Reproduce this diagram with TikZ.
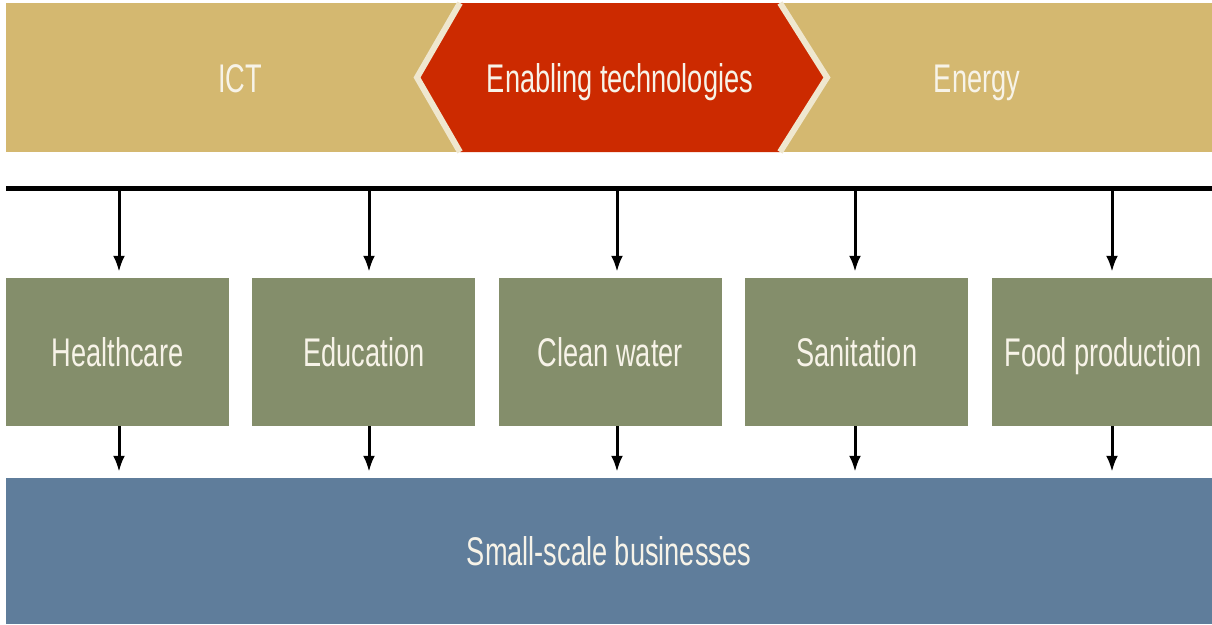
\documentclass[tikz,border=0pt]{standalone}
\usepackage{fontspec}
\setmainfont{Liberation Sans}[FakeStretch=0.68]
\usetikzlibrary{arrows.meta}
\usetikzlibrary{positioning}

\definecolor{bandtan}{HTML}{D4B870}
\definecolor{techred}{HTML}{CC2A00}
\definecolor{rimcream}{HTML}{EFE7CF}
\definecolor{sectorgreen}{HTML}{848E6B}
\definecolor{bizblue}{HTML}{5F7D9B}
\definecolor{textcream}{HTML}{F7F3E8}

\tikzset{
  lbl/.style={text=textcream,font=\fontsize{40}{44}\selectfont,text height=29pt,text depth=0pt},
  sector/.style={rectangle,fill=sectorgreen,inner sep=0pt,
    minimum width=223pt,minimum height=148pt,lbl},
  flow/.style={draw,line width=3pt,->,>={Latex[length=16pt,width=12pt]},shorten >=6pt}
}

\begin{document}
\begin{tikzpicture}[x=1pt,y=-1pt]

  \useasboundingbox (0,0) rectangle (1212,624);

  % top band with the hexagon in the middle
  \node [rectangle,fill=bandtan,inner sep=0pt,minimum width=1206pt,minimum height=149pt]
    (band) at (609,77.5) {};
  \fill [techred] (417,77.5) -- (460,3) -- (780,3) -- (827,77.5) -- (780,152) -- (460,152) -- cycle;
  \draw [rimcream,line width=6pt,line join=miter]
    (460,3) -- (417,77.5) -- (460,152)
    (780,3) -- (827,77.5) -- (780,152);
  \node [lbl] (ict)    at (240,78) {ICT};
  \node [lbl] (enable) at (620,78) {Enabling technologies};
  \node [lbl] (energy) at (977,78) {Energy};

  % bus line
  \coordinate (busL) at (6,188);
  \coordinate (busR) at (1212,188);
  \draw [line width=5pt] (busL) -- (busR);

  % sectors
  \node [sector] (health) at (117.5,352) {Healthcare};
  \node [sector,right=23pt of health] (educ)  {Education};
  \node [sector,right=23pt of educ]   (water) {Clean water};
  \node [sector,right=23pt of water]  (sanit) {Sanitation};
  \node [sector,right=23pt of sanit]  (food)  {Food production};

  \node [rectangle,fill=bizblue,inner sep=0pt,minimum width=1206pt,minimum height=146pt,lbl]
    (biz) at (609,551) {Small-scale businesses};

  % taps on the bus and the arrows
  \foreach \name/\x in {health/119,educ/369,water/617,sanit/855,food/1112} {
    \coordinate (tap-\name) at (\x,188);
    \path [flow] (tap-\name) -- (tap-\name |- \name.north);
    \path [flow] (tap-\name |- \name.south) -- (tap-\name |- biz.north);
  }

\end{tikzpicture}
\end{document}
